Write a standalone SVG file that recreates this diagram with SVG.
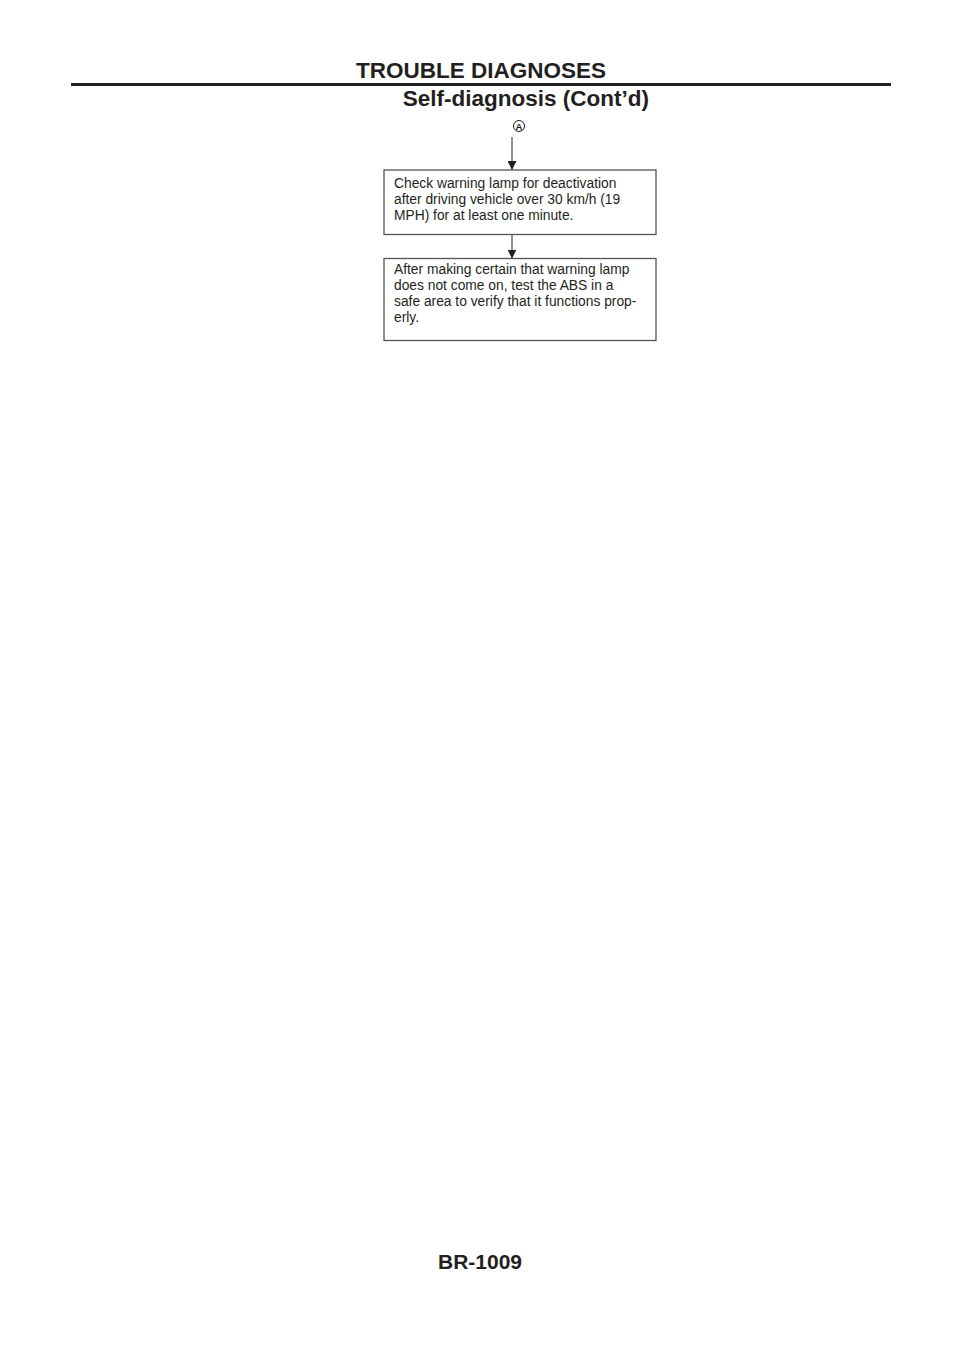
<svg xmlns="http://www.w3.org/2000/svg" width="960" height="1358" viewBox="0 0 960 1358">
<style>
.hdr{font-family:"Liberation Sans",Arial,sans-serif;font-weight:bold;fill:#231f20}
.body{font-family:"Liberation Sans",Arial,sans-serif;font-size:13.8px;fill:#231f20}
.box{fill:#fff;stroke:#555;stroke-width:1.3}
.conn{stroke:#231f20;stroke-width:1;fill:none}
</style>
<defs>
<marker id="arr" markerWidth="9" markerHeight="9" refX="9" refY="4.5" orient="auto" markerUnits="userSpaceOnUse" viewBox="0 0 9 9">
<path d="M0,0 L9,4.5 L0,9 Z" fill="#231f20"/>
</marker>
</defs>
<rect width="960" height="1358" fill="#fff"/>
<g id="header">
<text class="hdr" x="481" y="77.5" font-size="22.5" text-anchor="middle">TROUBLE DIAGNOSES</text>
<line x1="71" y1="84.5" x2="891" y2="84.5" stroke="#231f20" stroke-width="3"/>
<text class="hdr" x="649" y="106" font-size="22.5" text-anchor="end">Self-diagnosis (Cont’d)</text>
</g>
<g id="connector-A">
<circle cx="519" cy="126" r="5.5" fill="none" stroke="#231f20" stroke-width="1"/>
<text x="519" y="129.5" font-family="Liberation Sans,Arial,sans-serif" font-size="9.5" font-weight="bold" text-anchor="middle" fill="#231f20">A</text>
</g>
<g id="connectors">
<line class="conn" x1="512" y1="137" x2="512" y2="170" marker-end="url(#arr)"/>
<line class="conn" x1="512" y1="235" x2="512" y2="258.5" marker-end="url(#arr)"/>
</g>
<g id="node-1">
<rect class="box" x="384" y="170" width="272" height="64.5"/>
<text class="body" x="394" y="188">Check warning lamp for deactivation</text>
<text class="body" x="394" y="204">after driving vehicle over 30 km/h (19</text>
<text class="body" x="394" y="220">MPH) for at least one minute.</text>
</g>
<g id="node-2">
<rect class="box" x="384" y="258.5" width="272" height="82"/>
<text class="body" x="394" y="273.5">After making certain that warning lamp</text>
<text class="body" x="394" y="289.5">does not come on, test the ABS in a</text>
<text class="body" x="394" y="305.5">safe area to verify that it functions prop-</text>
<text class="body" x="394" y="321.5">erly.</text>
</g>
<g id="footer">
<text class="hdr" x="480" y="1269" font-size="21" text-anchor="middle">BR-1009</text>
</g>
</svg>
